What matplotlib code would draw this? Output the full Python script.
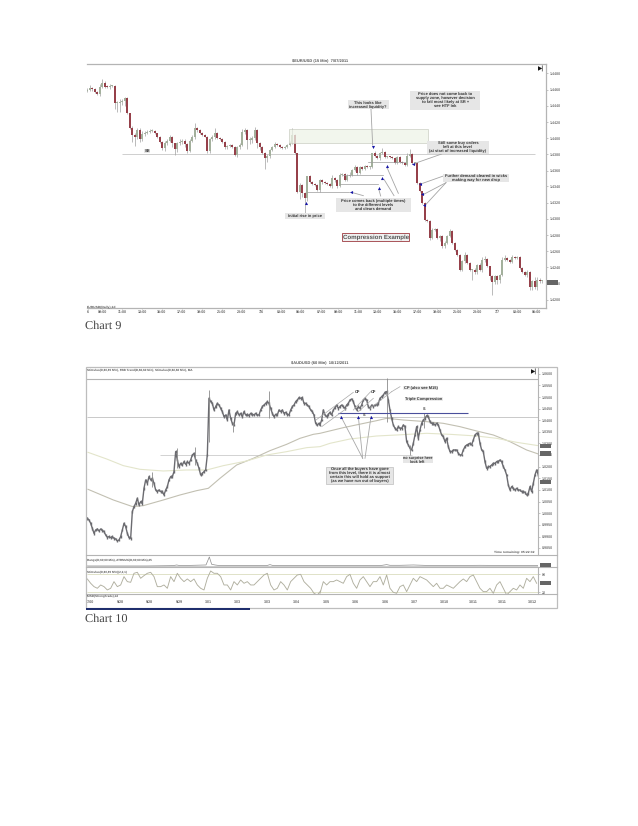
import numpy as np
import matplotlib
matplotlib.use("Agg")
import matplotlib.pyplot as plt
from matplotlib.patches import Rectangle

# ---- chart 9 (15 min candles), prices in points above the chart floor
closes1 = [780, 787, 782, 775, 767, 788, 800, 790, 788, 792,
           792, 740, 742, 745, 748, 755, 710, 665, 645, 638,
           660, 632, 648, 652, 655, 657, 658, 650, 638, 625,
           605, 622, 628, 640, 620, 602, 620, 624, 628, 618,
           598, 628, 638, 665, 660, 650, 645, 640, 596, 632,
           638, 650, 635, 632, 625, 608, 612, 616, 610, 585,
           608, 615, 655, 660, 630, 630, 635, 660, 620, 610,
           592, 575, 582, 600, 608, 618, 615, 610, 605, 610,
           615, 622, 644, 590, 472, 495, 470, 455, 520, 502,
           497, 495, 480, 508, 502, 500, 498, 492, 515, 508,
           492, 525, 528, 510, 522, 525, 540, 550, 530, 548,
           542, 552, 548, 550, 592, 582, 575, 590, 595, 580,
           580, 578, 575, 562, 578, 565, 560, 555, 582, 588,
           560, 560, 500, 475, 440, 390, 385, 335, 360, 362,
           335, 340, 310, 320, 342, 355, 320, 300, 285, 240,
           265, 285, 260, 240, 240, 232, 255, 240, 268, 272,
           250, 220, 202, 220, 208, 225, 270, 275, 268, 264,
           278, 275, 278, 245, 232, 225, 232, 188, 205, 188,
           210, 205, 205]
upper_wicks1 = [5, 8, 3, 4, 2, 10, 12, 6, 4, 5,
                4, 2, 5, 8, 4, 3, 3, 2, 8, 5,
                5, 6, 8, 6, 4, 6, 4, 2, 2, 4,
                3, 6, 4, 6, 2, 2, 5, 8, 6, 4,
                3, 5, 8, 15, 5, 3, 4, 3, 2, 5,
                8, 15, 3, 3, 4, 2, 2, 3, 2, 3,
                3, 6, 8, 6, 3, 8, 6, 8, 3, 3,
                3, 2, 5, 4, 5, 5, 4, 3, 3, 3,
                4, 4, 22, 3, 2, 5, 3, 2, 0, 3,
                3, 2, 2, 5, 3, 4, 2, 3, 8, 4,
                3, 5, 4, 3, 4, 8, 4, 5, 3, 4,
                3, 4, 3, 3, 0, 4, 2, 5, 10, 3,
                3, 3, 4, 3, 4, 3, 3, 3, 8, 15,
                4, 3, 2, 2, 2, 2, 3, 3, 5, 4,
                3, 3, 4, 6, 3, 8, 3, 3, 3, 3,
                5, 8, 3, 3, 3, 5, 3, 6, 10, 8,
                3, 2, 5, 3, 4, 2, 8, 10, 4, 3,
                6, 3, 4, 2, 3, 4, 8, 3, 4, 12,
                8, 6, 4]
lower_wicks1 = [3, 4, 5, 3, 3, 4, 3, 4, 3, 4,
                3, 18, 25, 28, 10, 15, 3, 3, 20, 25,
                6, 8, 5, 6, 5, 4, 4, 3, 3, 3,
                5, 8, 6, 4, 12, 16, 8, 6, 6, 10,
                6, 5, 4, 5, 6, 3, 3, 2, 4, 6,
                4, 5, 3, 2, 3, 4, 4, 3, 3, 4,
                5, 5, 3, 6, 28, 12, 8, 4, 15, 10,
                3, 33, 12, 5, 4, 3, 4, 3, 3, 3,
                3, 3, 3, 2, 3, 20, 12, 45, 8, 3,
                3, 3, 3, 8, 4, 3, 4, 3, 6, 4,
                6, 5, 3, 4, 3, 5, 5, 4, 5, 3,
                3, 3, 3, 4, 3, 3, 3, 4, 3, 4,
                3, 2, 3, 3, 3, 3, 3, 3, 3, 3,
                3, 3, 3, 3, 4, 4, 3, 5, 3, 4,
                3, 8, 6, 4, 3, 5, 3, 3, 3, 4,
                5, 4, 3, 3, 30, 6, 5, 4, 8, 6,
                3, 10, 38, 6, 10, 8, 5, 3, 3, 3,
                5, 3, 4, 3, 3, 4, 6, 10, 8, 5,
                8, 6, 6]
y_ticks1 = [830, 781, 732, 683, 635, 587, 538, 490, 441, 393, 344, 295, 247, 198, 150]
y_labels1 = ["1.4480", "1.4460", "1.4440", "1.4420", "1.4400", "1.4380", "1.4360", "1.4340",
             "1.4320", "1.4300", "1.4280", "1.4260", "1.4240", "1.4220", "1.4200"]
time_ticks1 = [0.4, 6, 13.9, 21.9, 29.7, 37.7, 45.7, 53.7, 61.7, 69.7, 77.5, 85.3,
               93.5, 100.4, 108.4, 116.1, 124.1, 132.1, 140, 148, 156, 163.9, 171.9, 179.7]
time_labels1 = ["6", "09:00", "11:00", "13:00", "15:00", "17:00", "19:00", "21:00", "23:00",
                "7/6", "03:00", "05:00", "07:00", "09:00", "11:00", "13:00", "15:00", "17:00",
                "19:00", "21:00", "23:00", "7/7", "03:00", "05:00"]

# ---- chart 10 (60 min), sampled closes: before and after the middle of the chart
closes2a = [410, 405, 395, 380, 365, 375, 378, 372, 378, 374, 370, 360, 353, 355, 352, 355,
            350, 348, 342, 345, 355, 375, 395, 385, 365, 352, 350,
            430, 445, 455, 470, 450, 460, 455, 500, 525, 515, 535, 525, 530, 515, 495, 490,
            495, 490, 490, 480, 495, 505, 525, 535, 535, 550, 610, 585, 565, 575, 570, 580,
            572, 580, 575, 585, 600, 605, 585, 575, 560, 540, 545, 550, 555, 600, 770, 760,
            755, 735, 745, 755, 750, 740, 730, 715, 720, 705, 735, 710, 695, 690, 725, 730,
            720, 725, 715, 730, 720, 722, 718, 725, 722, 720, 725, 720, 720, 735, 745, 750,
            755, 760, 755, 740, 725, 715, 722, 720, 735, 730, 735, 725, 728, 722, 720, 735,
            745, 750, 760, 765, 772, 770, 772, 755, 755, 750, 745, 735, 730, 720, 695, 690, 695]
closes2b = [690, 705, 735, 720, 715, 722, 728, 720, 735, 742, 750, 740, 745, 750, 745, 740,
            750, 755, 765, 768, 760, 745, 735, 745, 740, 750, 765, 770, 765, 745, 740, 750,
            745, 750, 750, 755, 770, 775, 780, 788, 790, 765, 735, 710, 690, 680, 675, 685,
            680, 680, 690, 685, 640, 630, 620, 615, 635, 660, 685, 650, 675, 695, 705, 710,
            718, 715, 700, 695, 695, 690, 695, 690, 675, 660, 655, 640, 650, 625, 610, 610,
            615, 615, 615, 605, 600, 600, 615, 625, 630, 632, 635, 630, 645, 660, 665, 665,
            635, 615, 610, 580, 560, 565, 565, 570, 575, 575, 580, 580, 585, 580, 565, 555,
            540, 510, 495, 505, 500, 495, 500, 495, 495, 490, 490, 488, 480, 485, 505, 490,
            515, 540, 555, 540, 515]
spike_bars2 = [215, 290, 345, 388, 460, 566, 920, 990, 1033]
spike_highs2 = [550, 620, 625, 795, 700, 792, 830, 630, 725]
spike_lows2 = [505, 560, 570, 640, 670, 710, 700, 600, 680]
slow_bars2 = [24, 100, 158, 190, 250, 300, 350, 385, 420, 470, 520, 570, 620, 660, 700, 720,
              790, 890, 920, 970, 1040, 1090, 1140, 1190, 1240, 1290, 1340, 1375]
slow_ma2 = [497, 465, 445, 448, 465, 480, 493, 500, 530, 570, 590, 613, 632, 650, 662, 665,
            682, 703, 710, 705, 700, 695, 685, 672, 660, 640, 615, 603]
fast_bars2 = [24, 80, 130, 180, 250, 320, 380, 430, 500, 560, 620, 680, 720, 750, 810, 890,
              950, 1040, 1110, 1190, 1250, 1310, 1375]
fast_ma2 = [608, 588, 568, 557, 552, 555, 555, 568, 582, 600, 610, 622, 625, 635, 648, 657,
            660, 665, 662, 657, 650, 638, 628]
range_bars2 = [22, 200, 280, 290, 300, 378, 388, 395, 405, 420, 560, 570, 580, 900, 920, 930,
               960, 1000, 1060, 1200, 1350, 1375]
range_vals2 = [267, 267, 268, 270, 268, 270, 294, 272, 270, 268, 268, 271, 268, 268, 271, 269,
               269, 270, 268, 269, 268, 268]
osc2a = [228, 215, 205, 200, 210, 205, 195, 200, 220, 205, 210, 235, 220, 218, 245, 248, 230,
         238, 245, 248, 235, 205, 205, 210, 200, 235, 220, 245, 230, 220, 228, 220, 228, 210,
         200, 195, 230, 252, 245, 245, 235, 210, 210, 195, 220, 210, 225, 215, 220, 210, 210,
         220, 230, 240, 245, 210, 195, 200, 220, 210, 195, 220, 230, 240, 242, 220, 210, 200,
         185, 180, 192]
osc2b = [185, 220, 210, 220, 220, 225, 220, 215, 235, 242, 215, 200, 225, 235, 220, 205, 220,
         220, 235, 210, 240, 200, 188, 185, 205, 210, 190, 210, 230, 220, 235, 230, 225, 215,
         205, 215, 200, 200, 210, 205, 200, 210, 220, 228, 220, 235, 240, 220, 200, 190, 190,
         200, 185, 210, 220, 200, 180, 190, 200, 195, 210, 200, 230, 220, 235, 215]
y_ticks2 = [843, 809, 773, 739, 704, 670, 635, 600, 565, 530, 495, 460, 425, 390, 355, 322]
y_labels2 = ["1.0600", "1.0550", "1.0500", "1.0450", "1.0400", "1.0350", "1.0300", "1.0250",
             "1.0200", "1.0150", "1.0100", "1.0050", "1.0000", "0.9950", "0.9900", "0.9850"]
time_ticks2 = [30, 120, 208, 297, 385, 473, 562, 650, 738, 827, 915, 1003, 1092, 1180, 1268, 1357]
time_labels2 = ["7:00", "9/28", "9/28", "9/29", "10/1", "10/3", "10/3", "10/4",
                "10/5", "10/6", "10/6", "10/7", "10/10", "10/11", "10/11", "10/12"]

W, H = 638, 826
GRID = "#b4b4b4"
TXT = "#555555"
UP = "#a3b09c"
DOWN = "#96404a"
LINE2 = "#6b6b70"

plt.rcParams["font.family"] = ["Liberation Sans", "DejaVu Sans"]
plt.rcParams["text.hinting"] = "no_hinting"


def px_axes(fig, left, top, right, bottom):
    ax = fig.add_axes([left / W, 1 - bottom / H, (right - left) / W, (bottom - top) / H])
    ax.patch.set_alpha(0)
    return ax


def clean(ax):
    for s in ax.spines.values():
        s.set_visible(False)
    ax.set_xticks([])
    ax.set_yticks([])


def z1(x, y):  # position read on the crop of chart 9
    return x / 3 + 310, y / 3 + 50


def z2(x, y):  # position read on the crop of chart 10
    return x / 3 + 310, y / 3 + 355


fig = plt.figure(figsize=(W / 100, H / 100), dpi=100, facecolor="white")

# ---- chart 9
ax1 = px_axes(fig, 87.3, 64.3, 546, 308)
ax1.set_xlim(0, 183.5)
ax1.set_ylim(125, 857)
clean(ax1)
for s in ["top", "bottom", "right"]:
    ax1.spines[s].set_visible(True)
    ax1.spines[s].set_color(GRID)
    ax1.spines[s].set_linewidth(0.9)

opens1 = [closes1[0] - 3] + closes1[:-1]
for i, (o, c, u, d) in enumerate(zip(opens1, closes1, upper_wicks1, lower_wicks1)):
    col = UP if c >= o else DOWN
    ax1.vlines(i, min(o, c) - d, max(o, c) + u, color="#a0a0a0", lw=0.5, zorder=2)
    ax1.bar(i, max(abs(c - o), 3), bottom=min(o, c), width=0.85, color=col, lw=0, zorder=3)

ax1.hlines(588, 14, 179, color="#cfcfcf", lw=0.7, zorder=1)
ax1.yaxis.tick_right()
ax1.set_yticks(y_ticks1)
ax1.set_yticklabels(y_labels1, fontsize=2.6, color="#777777", fontweight="bold")
ax1.set_xticks(time_ticks1)
ax1.set_xticklabels(time_labels1, fontsize=2.6, color="#666666", fontweight="bold")
ax1.tick_params(axis="y", length=1.5, width=0.4, color="#999999", pad=1)
ax1.tick_params(axis="x", length=1, width=0.4, color="#999999", pad=0.8)

# ---- chart 10
ax2 = px_axes(fig, 86, 367, 538.3, 555.3)
ax2.set_xlim(18, 1375)
ax2.set_ylim(299, 864)
clean(ax2)
ax2.spines["right"].set_visible(True)
ax2.spines["right"].set_color(GRID)

bars2a = np.arange(len(closes2a)) * 5 + 22
bars2b = np.arange(len(closes2b)) * 5 + 720
bars2 = np.concatenate([bars2a, bars2b])
closes2 = np.array(closes2a + closes2b)
ax2.hlines(828, 18, 1375, color=GRID, lw=0.8)
ax2.hlines(713, 22, 1375, color="#c9c9c9", lw=0.7)
ax2.hlines(599, 240, 995, color="#d2d2d2", lw=0.7)
ax2.plot(slow_bars2, slow_ma2, color="#c2c0b2", lw=0.8, zorder=2)
ax2.plot(fast_bars2, fast_ma2, color="#e3e5cb", lw=0.8, zorder=2)
ax2.vlines(bars2, closes2 - 4, closes2 + 4, color=LINE2, lw=1.0, zorder=3)
ax2.plot(bars2, closes2, color=LINE2, lw=1.0, zorder=3)
ax2.vlines(spike_bars2, spike_lows2, spike_highs2, color="#8a8a8a", lw=0.6, zorder=3)
ax2.hlines(727, 775, 1165, color="#4a4f9c", lw=0.8, zorder=4)
ax2.yaxis.tick_right()
ax2.set_yticks(y_ticks2)
ax2.set_yticklabels(y_labels2, fontsize=2.6, color="#777777", fontweight="bold")
ax2.tick_params(axis="y", length=1.5, width=0.4, color="#999999", pad=1)

ax3 = px_axes(fig, 86, 555.3, 538.3, 567.3)
ax3.set_xlim(18, 1375)
ax3.set_ylim(263, 299)
clean(ax3)
ax3.plot(range_bars2, range_vals2, color="#8c8c8c", lw=0.5)
ax3.hlines(266, 22, 1375, color="#aaaaaa", lw=0.4)

ax4 = px_axes(fig, 86, 567.3, 538.3, 594.3)
ax4.set_xlim(18, 1375)
ax4.set_ylim(182, 263)
clean(ax4)
ax4.spines["right"].set_visible(True)
ax4.spines["right"].set_color(GRID)
ax4.hlines([242, 188], 22, 1375, color="#e0e2c8", lw=0.7)
ax4.plot(np.arange(len(osc2a)) * 10 + 22, osc2a, color="#b0af9f", lw=0.65)
ax4.plot(np.arange(len(osc2b)) * 10 + 720, osc2b, color="#b0af9f", lw=0.65)
ax4.yaxis.tick_right()
ax4.set_yticks([242, 188])
ax4.set_yticklabels(["80", "20"], fontsize=2.6, color="#777777", fontweight="bold")
ax4.tick_params(axis="y", length=1.5, width=0.4, color="#999999", pad=1)

ax5 = px_axes(fig, 86, 594.3, 538.3, 608)
ax5.set_xlim(18, 1375)
ax5.set_ylim(0, 1)
clean(ax5)
ax5.set_xticks(time_ticks2)
ax5.set_xticklabels(time_labels2, fontsize=2.6, color="#666666", fontweight="bold")
ax5.xaxis.tick_top()
ax5.tick_params(axis="x", length=0, pad=-6.5, labeltop=True)

# ---- everything on top of the two screenshots, in page pixels
ov = fig.add_axes([0, 0, 1, 1], zorder=10)
ov.set_xlim(0, W)
ov.set_ylim(H, 0)
ov.axis("off")
ov.patch.set_alpha(0)

# frames of chart 10
ov.add_patch(Rectangle((86, 367), 471, 241, fill=False, ec="#bdbdbd", lw=0.9))
ov.plot([86, 557], [555.3, 555.3], color=GRID, lw=0.8)
ov.plot([86, 557], [567.3, 567.3], color=GRID, lw=0.8)
ov.plot([86, 557], [594.3, 594.3], color=GRID, lw=0.8)
ov.plot([86, 250], [609.3, 609.3], color="#1b2a6b", lw=1.4, solid_capstyle="butt")

# supply zone on chart 9
ov.add_patch(Rectangle((288.5, 129.3), 139, 14, fc="#eef3e8", ec="#c5cabd", lw=0.6, alpha=0.75, zorder=1))


def box(x0, y0, x1, y1, lines, conv=z1, size=2.9, fc="#e6e6e6", color="#333333", ec="none", lw=0):
    (a, b), (c, d) = conv(x0, y0), conv(x1, y1)
    ov.add_patch(Rectangle((a, b), c - a, d - b, fc=fc, ec=ec, lw=lw, zorder=3))
    ov.text((a + c) / 2, (b + d) / 2, "\n".join(lines), ha="center", va="center", fontsize=size,
            fontweight="bold", color=color, linespacing=1.1, zorder=4)


def lead(points, conv=z1, color="#a5a5a5", lw=0.6):
    xy = [conv(*p) for p in points]
    ov.plot([p[0] for p in xy], [p[1] for p in xy], color=color, lw=lw, zorder=2)


def arrow(x, y, marker, conv=z1):
    a, b = conv(x, y)
    ov.scatter([a], [b], marker=marker, s=5, color="#1717a6", lw=0, zorder=5)


def label(x, y, txt, size=2.6, ha="left", color=TXT, weight="bold"):
    ov.text(x, y, txt, fontsize=size, ha=ha, va="center", color=color, fontweight=weight, zorder=5)


label(320, 61, "$EUR/USD (15 Min)  7/07/2011", size=2.9, ha="center")
label(87, 307, "EURUSD(Daily),1d", size=2.4)
box(113, 151, 236, 178, ["This looks like", "increased liquidity?"])
box(301, 122, 510, 179, ["Price does not come back to", "supply zone, however decision",
                         "to fall most likely at SR +", "see HTF Ink"])
box(350, 272, 537, 312, ["Still some buy orders", "left at this level",
                         "(at start of increased liquidity)"])
box(398, 372, 597, 397, ["Further demand cleared in wicks", "making way for new drop"])
box(78, 443, 302, 485, ["Price comes back (multiple times)", "to the different levels",
                        "and clears demand"])
box(97, 550, 298, 572, ["Compression Example"], size=4.4, fc="#f1f1f1", color="#555555",
    ec="#9d3a40", lw=0.6)
box(-75, 490, 45, 506, ["Initial rise in price"])
box(-497, 296, -479, 308, ["SR"])

lead([(183, 178), (188, 285)])
lead([(315, 340), (395, 312)])
lead([(338, 400), (400, 378)])
lead([(343, 432), (408, 398)])
lead([(348, 463), (408, 398)])
lead([(160, 437), (128, 428)])
lead([(212, 438), (207, 420)])
lead([(252, 437), (222, 388)])
lead([(265, 430), (232, 355)])
lead([(-10, 425), (118, 425)], lw=0.5, color="#9a9a9a")
lead([(90, 402), (205, 402)], lw=0.5, color="#9a9a9a")
lead([(100, 375), (220, 375)], lw=0.5, color="#9a9a9a")
lead([(175, 335), (285, 335)], lw=0.5, color="#9a9a9a")
for ax_, my, mk in [(188, 292, "v"), (122, 427, "<"), (207, 414, "^"), (216, 384, "^"),
                    (230, 347, "^"), (309, 341, "<"), (331, 402, "<"), (337, 432, "<"),
                    (343, 465, "<"), (-12, 460, "^")]:
    arrow(ax_, my, mk)
ov.text(*z1(693, 58), "▶|", fontsize=4, ha="center", va="center", color="#111111",
        family=["DejaVu Sans"], fontweight="bold")
tag_x = z1(712, 0)[0]
ov.add_patch(Rectangle((tag_x, z1(0, 690)[1]), 11, 4.5, fc="#666666", ec="none", zorder=5))

# chart 10 texts
label(320, 363, "$AUDUSD (60 Min)  10/12/2011", size=2.9, ha="center")
label(87, 369.7, "Stimulus(D,60,60 Min), $BB Trend(D,60,60 Min), Stimulus(D,60,60 Min), MA", size=2.2)
label(87, 559.7, "Range(D,60,60 Min), ATRMulti(D,60,60 Min),25", size=2.2)
label(87, 572, "Stimulus(D,60,60 Min)(2,2,1)", size=2.2)
label(87, 596, "$USD(StrongTrade),1d", size=2.2)
box(48, 335, 250, 388, ["Once all the buyers have gone", "from this level, there it is almost",
                        "certain this will hold as support", "(as we have run out of buyers)"],
    conv=z2, ec="#b0b0b0", lw=0.4)
box(278, 303, 368, 325, ["no surprise here", "look left"], conv=z2, size=2.7)
box(278, 92, 385, 106, ["CP (also see M15)"], conv=z2, size=2.9, fc="#ececec")
box(285, 127, 398, 139, ["Triple Compression"], conv=z2, size=2.9, fc="#ececec")
for x_, y_, t_ in [(143, 110, "CP"), (192, 110, "CP"), (343, 163, "S"), (162, 180, "S")]:
    a_, b_ = z2(x_, y_)
    label(a_, b_, t_, size=2.8, ha="center", color="#333333")
a_, b_ = z2(672, 590)
label(a_, b_, "Time remaining: 05:22:32", size=2.4, ha="right")
for seg in [[(18, 195), (130, 112)], [(35, 215), (110, 160)], [(130, 165), (182, 110)],
            [(145, 170), (190, 130)], [(180, 160), (245, 110)], [(245, 110), (270, 95)]]:
    lead(seg, conv=z2, color="#a8a8a8", lw=0.5)
for seg in [[(158, 310), (93, 185)], [(158, 310), (145, 185)], [(165, 310), (183, 185)]]:
    lead(seg, conv=z2, color="#a8a8a8", lw=0.6)
for x_ in [93, 145, 183]:
    arrow(x_, 185, "^", conv=z2)
ov.text(*z2(672, 51), "▶|", fontsize=4, ha="center", va="center", color="#111111",
        family=["DejaVu Sans"], fontweight="bold")
for y_ in [272, 295, 380, 630, 683]:
    a_, b_ = z2(690, y_ - 6)
    ov.add_patch(Rectangle((a_, b_), 11, 4.2, fc="#666666", ec="none", zorder=5))

# captions of the page
ov.text(85, 326.3, "Chart 9", fontsize=8.8, family=["Liberation Serif"], color="#444444", va="center")
ov.text(85, 618.8, "Chart 10", fontsize=8.8, family=["Liberation Serif"], color="#444444", va="center")

fig.savefig("out.png", dpi=100, facecolor="white")
